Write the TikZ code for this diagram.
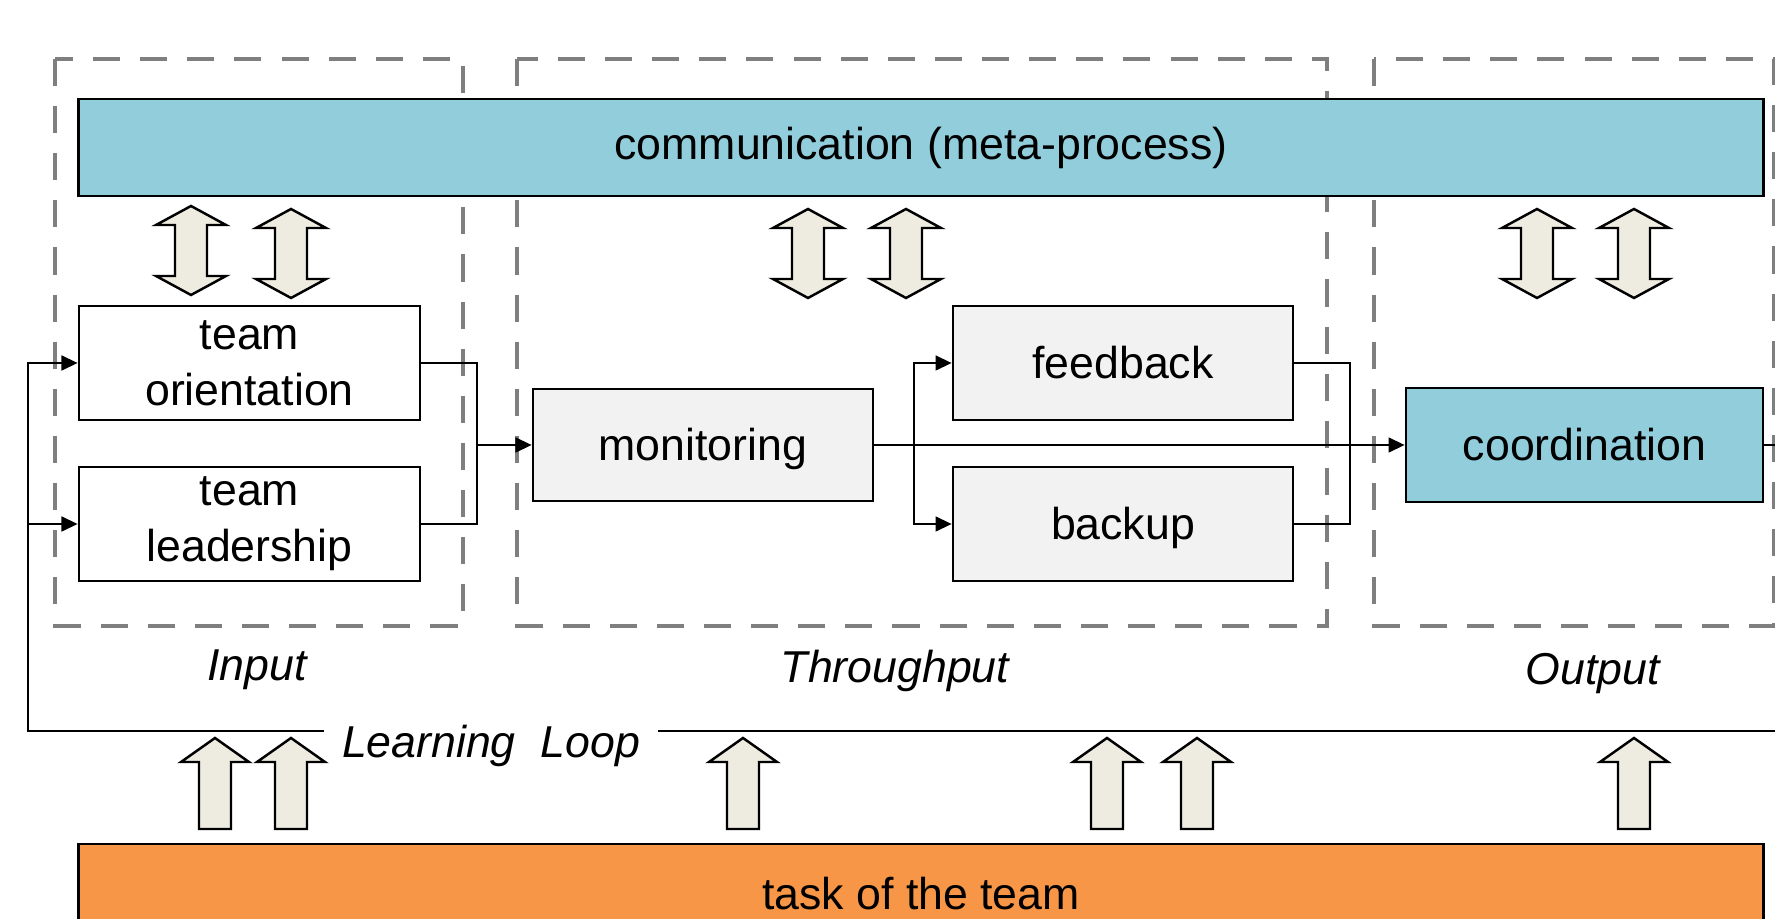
\documentclass[tikz,border=0pt]{standalone}
\usepackage{fontspec}
\setmainfont{Liberation Sans}
\usetikzlibrary{arrows.meta}

\definecolor{metablue}{HTML}{92CDDC}
\definecolor{taskorange}{HTML}{F79646}
\definecolor{boxgray}{HTML}{F2F2F2}
\definecolor{arrowtan}{HTML}{EEECE1}
\definecolor{framegray}{HTML}{7F7F7F}

\tikzset{process box/.style={draw,line width=0.7pt,minimum width=3.41cm,minimum height=1.14cm,align=center,inner sep=0pt,font=\fontsize{12.7}{16}\selectfont},
one line/.style={text height=1.08em,text depth=0.2em},
wide bar/.style={draw,line width=0.7pt,minimum width=16.84cm,inner sep=0pt,font=\fontsize{12.7}{16}\selectfont},
group frame/.style={framegray,line width=1.4pt,dash pattern=on 7.7pt off 5.7pt},
group label/.style={font=\fontsize{12.7}{16}\selectfont\itshape,inner sep=0pt,text height=0.905em,text depth=0.212em},
link/.style={line width=0.7pt},
flow/.style={line width=0.7pt,-{Triangle[length=4.6pt,width=4.2pt]}},
block arrow/.style={draw,line width=0.7pt,fill=arrowtan,line join=miter},
two way arrow/.pic={\path[block arrow] (0,0) -- (35,19) -- (16,19) -- (16,70) -- (35,70) -- (0,89) -- (-35,70) -- (-16,70) -- (-16,19) -- (-35,19) -- cycle;},
up arrow/.pic={\path[block arrow] (0,0) -- (34,24) -- (16,24) -- (16,91) -- (-16,91) -- (-16,24) -- (-34,24) -- cycle;}}

\begin{document}
\begin{tikzpicture}[x=0.01cm,y=-0.01cm]
\useasboundingbox (0,0) rectangle (1775,919);
\clip (0,0) rectangle (1775,919);

%% phase frames
\draw [group frame] (55,59) rectangle (463,626);
\draw [group frame] (517,59) rectangle (1327,626);
\draw [group frame] (1374,59) rectangle (1774,626);

%% boxes
\node [wide bar,fill=metablue,minimum height=0.97cm] (communication) at (921,147.5) {communication (meta-process)};
\node [process box,fill=white] (orientation) at (249.5,363) {team\\orientation};
\node [process box,fill=white] (leadership) at (249.5,524) {team\\leadership};
\node [process box,one line,fill=boxgray,minimum width=3.40cm,minimum height=1.12cm] (monitoring) at (703,445) {monitoring};
\node [process box,one line,fill=boxgray,minimum width=3.40cm] (feedback) at (1123,363) {feedback};
\node [process box,one line,fill=boxgray,minimum width=3.40cm] (backup) at (1123,524) {backup};
\node [process box,one line,fill=metablue,minimum width=3.57cm] (coordination) at (1584.5,445) {coordination};
\node [wide bar,fill=taskorange,minimum height=1.00cm] (task) at (921,894) {task of the team};

%% phase labels
\node [group label] (input label) at (257,668) {Input};
\node [group label] (throughput label) at (895,670) {Throughput};
\node [group label] (output label) at (1593,672) {Output};
\node [group label,minimum width=3.32cm] (loop label) at (491,745) {Learning\ \ Loop};

%% junctions
\coordinate (input join) at (477,445);
\coordinate (split) at (914,445);
\coordinate (merge) at (1350,445);
\coordinate (loop corner) at (28,731);
\coordinate (loop exit) at (1800,445);

%% connectors
\draw [link] (orientation.east) -| (input join |- leadership.east) -- (leadership.east);
\draw [flow] (input join) -- (monitoring.west);
\draw [flow] (monitoring.east) -- (coordination.west);
\draw [flow] (split) |- (feedback.west);
\draw [flow] (split) |- (backup.west);
\draw [link] (feedback.east) -| (merge |- backup.east) -- (backup.east);

%% learning loop
\draw [link] (coordination.east) -- (loop exit) |- (loop label.east |- loop corner);
\draw [flow] (loop label.west |- loop corner) -- (loop corner) |- (orientation.west);
\draw [flow] (loop corner |- leadership.west) -- (leadership.west);

%% exchange with communication
\pic at (191,206) {two way arrow};
\pic at (291,209) {two way arrow};
\pic at (808,209) {two way arrow};
\pic at (906,209) {two way arrow};
\pic at (1537,209) {two way arrow};
\pic at (1634,209) {two way arrow};

%% input from the task
\pic at (215,738) {up arrow};
\pic at (291,738) {up arrow};
\pic at (743,738) {up arrow};
\pic at (1107,738) {up arrow};
\pic at (1197,738) {up arrow};
\pic at (1634,738) {up arrow};

\end{tikzpicture}
\end{document}
